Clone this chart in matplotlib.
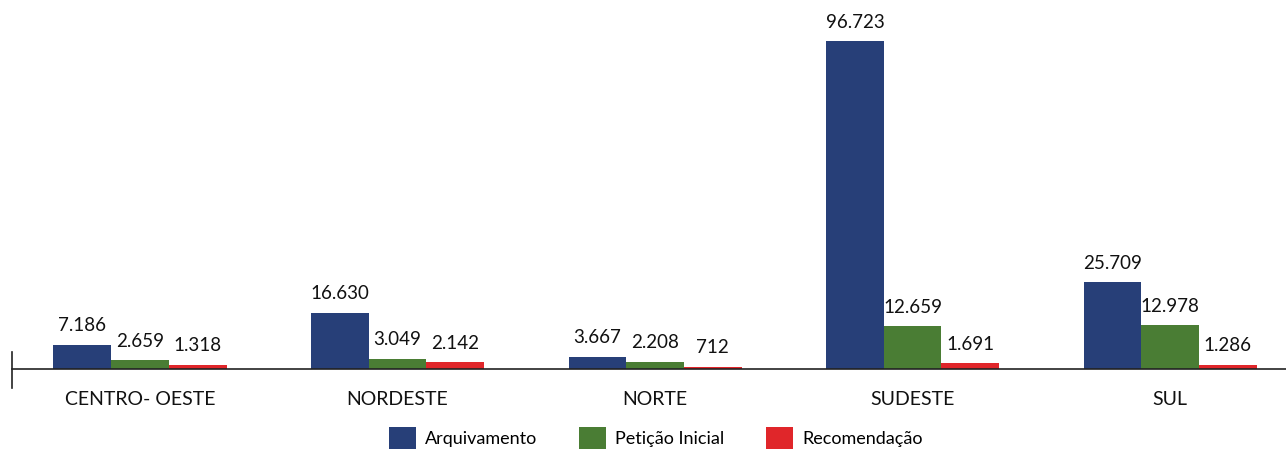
import matplotlib.pyplot as plt
from matplotlib.patches import Patch
from matplotlib.transforms import blended_transform_factory

plt.rcParams['font.family'] = ['Lato', 'DejaVu Sans']

regioes = ["CENTRO- OESTE", "NORDESTE", "NORTE", "SUDESTE", "SUL"]
arquivamento = [7186, 16630, 3667, 96723, 25709]
peticao = [2659, 3049, 2208, 12659, 12978]
recomendacao = [1318, 2142, 712, 1691, 1286]

series = ["Arquivamento", "Petição Inicial", "Recomendação"]
cores = ["#273f78", "#4a7d34", "#e0262a"]


def fmt(v):
    return f"{v:,}".replace(",", ".")


fig = plt.figure(figsize=(12.86, 4.5), dpi=100)
ax = fig.add_axes([12 / 1286, 81 / 450, 1 - 12 / 1286, 369 / 450])

w = 0.224
x = list(range(len(regioes)))
for i, (dados, cor) in enumerate(zip([arquivamento, peticao, recomendacao], cores)):
    pos = [xi + (i - 1) * w for xi in x]
    ax.bar(pos, dados, width=w, color=cor, zorder=2)
    for p, v in zip(pos, dados):
        ax.text(p, v + 3000, fmt(v), ha="center", va="bottom", fontsize=13.5, color="#111111")

ax.set_xlim(-0.497, 4.45)
ax.set_ylim(0, 108800)
for s in ["top", "right", "left"]:
    ax.spines[s].set_visible(False)
ax.spines["bottom"].set_color("#222222")
ax.spines["bottom"].set_linewidth(1.2)
ax.set_yticks([])
ax.set_xticks(x)
ax.set_xticklabels(regioes, fontsize=14, color="#111111")
ax.tick_params(axis="x", length=0, pad=16)

# pequeno traço vertical no início do eixo
tr = blended_transform_factory(ax.transAxes, ax.transAxes)
ax.plot([0, 0], [-0.052, 0.046], transform=tr, color="#222222", lw=1.2, clip_on=False)

handles = [Patch(facecolor=c, edgecolor="none") for c in cores]
fig.legend(handles, series, loc="center", bbox_to_anchor=(656 / 1286, 1 - 438 / 450),
           ncol=3, frameon=False, fontsize=13, handlelength=1.5, handleheight=1.5,
           handletextpad=0.5, columnspacing=2.3)

fig.savefig("out.png", dpi=100)
